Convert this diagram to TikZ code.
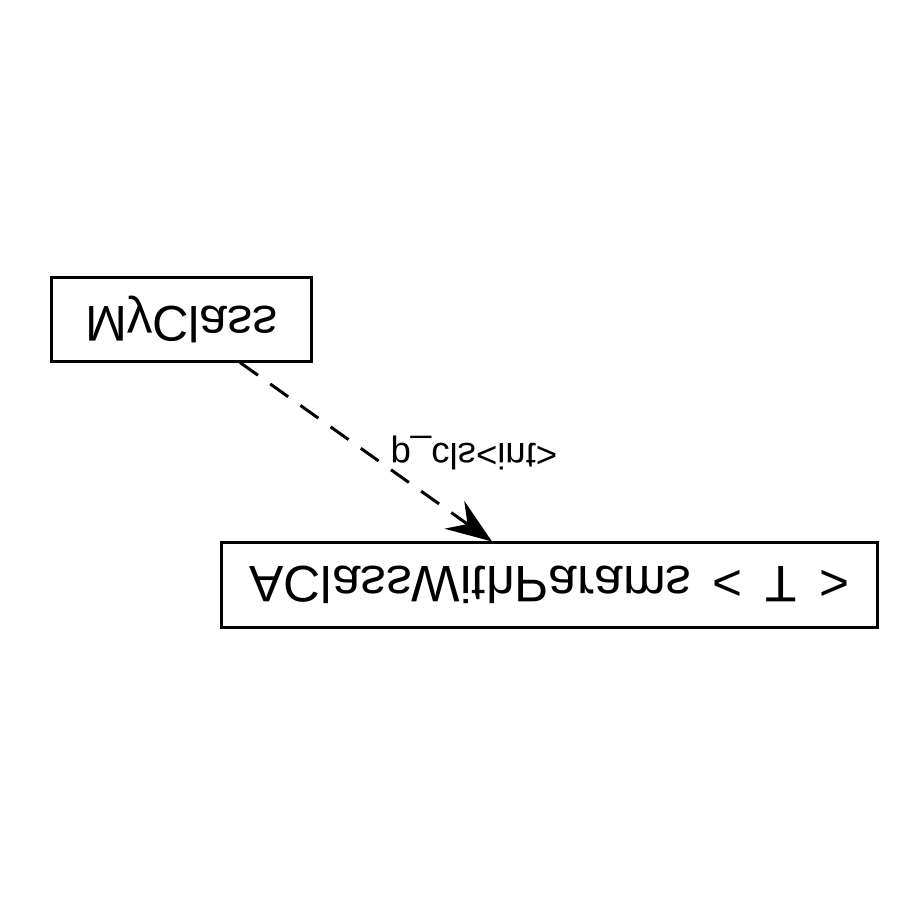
\documentclass[tikz,border=0pt]{standalone}
\usepackage{graphicx}
\usepackage{fontspec}
\setmainfont{Liberation Sans}
\usetikzlibrary{arrows.meta,calc}
\tikzset{
  classbox/.style={draw=black, line width=0.85pt, fill=white, inner sep=0pt, font=\fontsize{14.3}{16}\selectfont},
  deplink/.style={draw=black, line width=0.85pt, dash pattern=on 0.22cm off 0.15cm, -{Stealth[length=4.6mm,width=3.4mm,inset=1.6mm]}},
  edgelabel/.style={font=\fontsize{10.4}{12}\selectfont, inner sep=0pt}
}
\newcommand{\flipv}[1]{\scalebox{1}[-1]{#1}}
\begin{document}
\begin{tikzpicture}[x=0.01cm,y=-0.01cm]
\useasboundingbox (0,0) rectangle (900,900);
\node[classbox, minimum width=2.59cm, minimum height=0.83cm] (my) at (181.5,319.5) {\flipv{MyClass}};
\node[classbox, font=\fontsize{14.6}{16}\selectfont, minimum width=6.55cm, minimum height=0.84cm] (acl) at (549.5,585) {\flipv{AClassWithParams\hspace{0.4em}<\hspace{0.45em}T\hspace{0.45em}>}\hspace{0.05cm}};
\draw[deplink] ([xshift=0.585cm]my.south) -- ([xshift=-0.575cm]acl.north);
\node[edgelabel] (lbl) at (474,453) {\flipv{p\_cls<int>}};
\end{tikzpicture}
\end{document}
